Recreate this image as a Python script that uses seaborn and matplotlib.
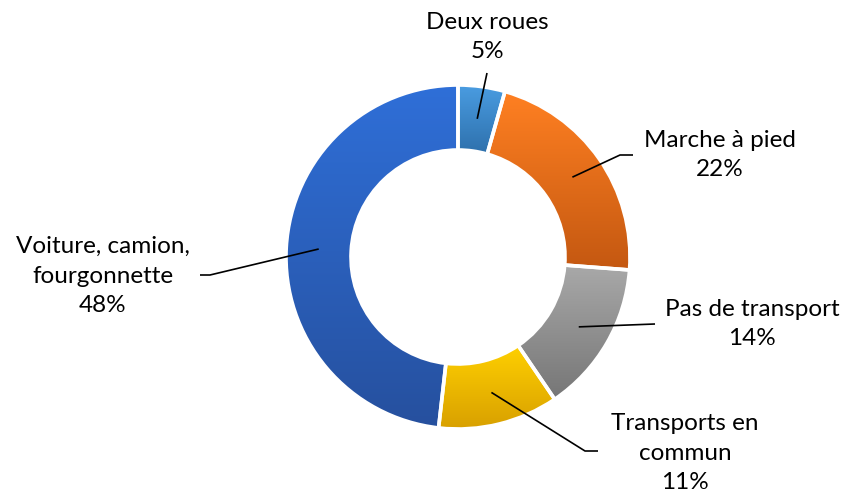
import matplotlib
matplotlib.use("Agg")
import matplotlib.pyplot as plt
import numpy as np
import seaborn as sns
from matplotlib.colors import to_rgb

# data
categories = ["Deux roues", "Marche à pied", "Pas de transport",
              "Transports en\ncommun", "Voiture, camion,\nfourgonnette"]
shares = [4.4, 21.8, 14.3, 11.3, 48.2]
share_labels = ["5%", "22%", "14%", "11%", "48%"]

# gradient colours (top, bottom) for each slice
top_colors = ["#4a9de2", "#ff8022", "#a9a9a9", "#ffd000", "#2f6fd8"]
bottom_colors = ["#2e70ac", "#c45811", "#767676", "#d8a000", "#26509e"]

W, H = 845, 498
sns.set_theme(style="white")
plt.rcParams["font.family"] = ["Lato", "DejaVu Sans"]

fig = plt.figure(figsize=(W / 100, H / 100), dpi=100)
ax = fig.add_axes([0, 0, 1, 1])

cx, cy = 458, H - 257
radius, ring = 172, 65

wedges, _ = ax.pie(shares, startangle=90, counterclock=False,
                   radius=radius, center=(cx, cy), frame=True,
                   wedgeprops=dict(width=ring, facecolor="none",
                                   edgecolor="white", linewidth=2.6, zorder=3))

# vertical gradient fill clipped to each wedge
for w, c_top, c_bot in zip(wedges, top_colors, bottom_colors):
    ext = w.get_path().get_extents()
    t = np.linspace(0, 1, 256)[:, None, None]
    grad = (1 - t) * np.array(to_rgb(c_top)) + t * np.array(to_rgb(c_bot))
    im = ax.imshow(grad, extent=[ext.x0, ext.x1, ext.y0, ext.y1],
                   origin="upper", aspect="auto", zorder=2)
    im.set_clip_path(w)
ax.set_xlim(0, W)
ax.set_ylim(0, H)
ax.axis("off")

# label layout: text centre, leader elbow, leader end (pixel coords, y from top)
text_pos = [(487, 37), (720, 155), (752, 324), (685, 453), (103, 276)]
elbows = [None, (620, 155), None, (585, 451), (210, 275)]
ends = [(487, 73), (633, 155), (655, 324), (598, 451), (200, 275)]

cum = np.cumsum([0] + shares[:-1])
mid_r = radius - ring / 2
for i, (cat, lab) in enumerate(zip(categories, share_labels)):
    ang = np.deg2rad(90 - 3.6 * (cum[i] + shares[i] / 2))
    sx, sy = cx + mid_r * np.cos(ang), cy + mid_r * np.sin(ang)
    if i == 4:
        sy = H - 249
    pts = [(sx, sy)]
    if elbows[i] is not None:
        pts.append((elbows[i][0], H - elbows[i][1]))
    pts.append((ends[i][0], H - ends[i][1]))
    xs, ys = zip(*pts)
    ax.plot(xs, ys, color="black", lw=1.2, zorder=4, solid_capstyle="butt")
    ax.text(text_pos[i][0], H - text_pos[i][1], f"{cat}\n{lab}",
            ha="center", va="center", fontsize=17.5, linespacing=1.5,
            color="#000000")

fig.savefig("out.png", dpi=100)
